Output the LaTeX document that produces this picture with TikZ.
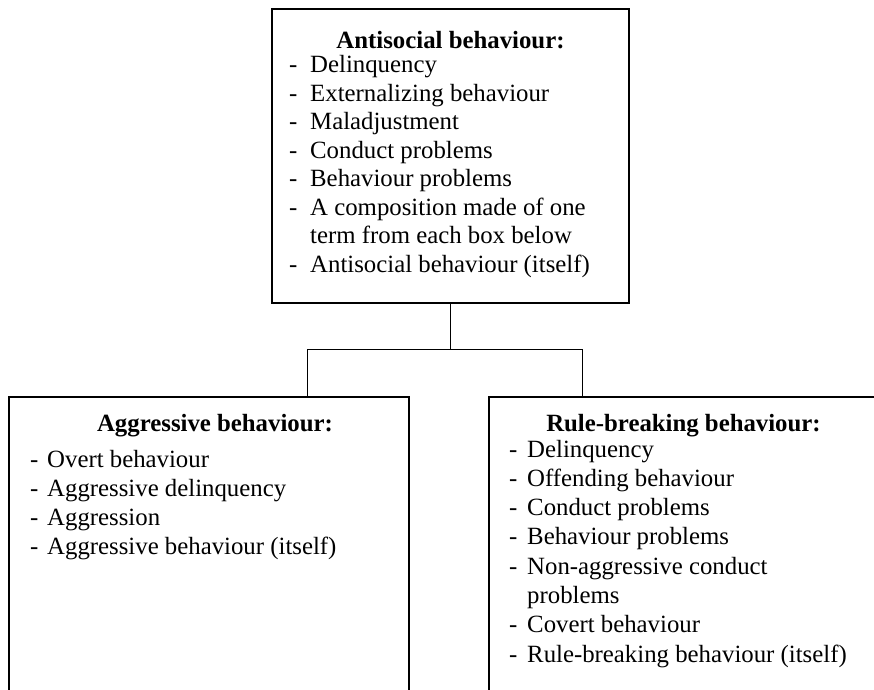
\documentclass[tikz,border=0pt]{standalone}
\usepackage{fontspec}
\setmainfont{Liberation Serif}
\begin{document}
\begin{tikzpicture}[x=1pt,y=-1pt]
\tikzset{
  box/.style={draw, line width=2.4pt, rectangle, inner sep=0pt},
  conn/.style={line width=1pt},
  ttl/.style={font=\fontsize{24.8}{28}\selectfont\bfseries, anchor=base, inner sep=0pt},
  itm/.style={font=\fontsize{24.8}{28}\selectfont, anchor=base west, inner sep=0pt},
}
\useasboundingbox (0,0) rectangle (874,689);
\clip (0,0) rectangle (874,689);
% boxes
\node[box, minimum width=357pt, minimum height=294pt] (top) at (450.5,156) {};
\node[box, minimum width=400pt, minimum height=320pt] (lbox) at (209,557) {};
\node[box, minimum width=389pt, minimum height=320pt] (rbox) at (683.5,557) {};
% connectors
\coordinate (jl) at (307,349);
\coordinate (jr) at (582,349);
\draw[conn] (top.south) -- (top.south |- jl);
\draw[conn] (jl) -- (jr);
\draw[conn] (jl) -- (jl |- lbox.north);
\draw[conn] (jr) -- (jr |- rbox.north);
% top box text
\node[ttl] (t0) at (450.5,48) {Antisocial behaviour:};
\node[itm] (td1) at (289,72.5) {-};  \node[itm] (t1) at (310,72.5) {Delinquency};
\node[itm] (td2) at (289,101) {-};   \node[itm] (t2) at (310,101) {Externalizing behaviour};
\node[itm] (td3) at (289,129.5) {-}; \node[itm] (t3) at (310,129.5) {Maladjustment};
\node[itm] (td4) at (289,158) {-};   \node[itm] (t4) at (310,158) {Conduct problems};
\node[itm] (td5) at (289,186.5) {-}; \node[itm] (t5) at (310,186.5) {Behaviour problems};
\node[itm] (td6) at (289,215) {-};   \node[itm] (t6) at (310,215) {A composition made of one};
\node[itm] (t7) at (310,243.5) {term from each box below};
\node[itm] (td8) at (289,272) {-};   \node[itm] (t8) at (310,272) {Antisocial behaviour (itself)};
% left box text
\node[ttl] (l0) at (215,431) {Aggressive behaviour:};
\node[itm] (ld1) at (30,467) {-};   \node[itm] (l1) at (47,467) {Overt behaviour};
\node[itm] (ld2) at (30,496.3) {-}; \node[itm] (l2) at (47,496.3) {Aggressive delinquency};
\node[itm] (ld3) at (30,525.6) {-}; \node[itm] (l3) at (47,525.6) {Aggression};
\node[itm] (ld4) at (30,554.9) {-}; \node[itm] (l4) at (47,554.9) {Aggressive behaviour (itself)};
% right box text
\node[ttl] (r0) at (683.5,431) {Rule-breaking behaviour:};
\node[itm] (rd1) at (509,457) {-};   \node[itm] (r1) at (527,457) {Delinquency};
\node[itm] (rd2) at (509,486.3) {-}; \node[itm] (r2) at (527,486.3) {Offending behaviour};
\node[itm] (rd3) at (509,515.6) {-}; \node[itm] (r3) at (527,515.6) {Conduct problems};
\node[itm] (rd4) at (509,544.9) {-}; \node[itm] (r4) at (527,544.9) {Behaviour problems};
\node[itm] (rd5) at (509,574.2) {-}; \node[itm] (r5) at (527,574.2) {Non-aggressive conduct};
\node[itm] (r6) at (527,603.5) {problems};
\node[itm] (rd7) at (509,632.8) {-}; \node[itm] (r7) at (527,632.8) {Covert behaviour};
\node[itm] (rd8) at (509,662.1) {-}; \node[itm] (r8) at (527,662.1) {Rule-breaking behaviour (itself)};
\end{tikzpicture}
\end{document}
